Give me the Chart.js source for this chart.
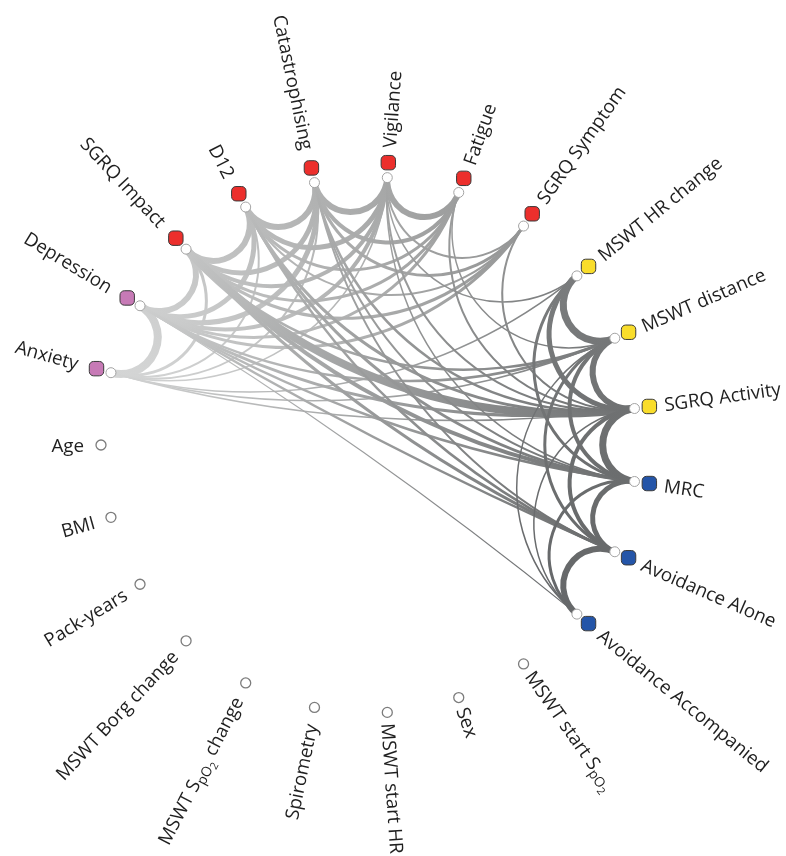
<!DOCTYPE html>
<html>
<head>
<meta charset="utf-8">
<script src="https://cdn.jsdelivr.net/npm/chart.js@4.4.1/dist/chart.umd.min.js"></script>
<style>
  html, body { margin: 0; padding: 0; background: #fff; }
  #wrap { width: 786px; height: 856px; }
</style>
</head>
<body>
<div id="wrap"><canvas id="chart"></canvas></div>
<script>
// nodes, clockwise, starting with Vigilance near the top
const nodeNames = [
  "Vigilance", "Fatigue", "SGRQ Symptom", "MSWT HR change", "MSWT distance",
  "SGRQ Activity", "MRC", "Avoidance Alone", "Avoidance Accompanied",
  "MSWT start SpO2", "Sex", "MSWT start HR", "Spirometry", "MSWT SpO2 change",
  "MSWT Borg change", "Pack-years", "BMI", "Age", "Anxiety", "Depression",
  "SGRQ Impact", "D12", "Catastrophising"
];

const nodeGroups = [
  "red", "red", "red", "yellow", "yellow",
  "yellow", "blue", "blue", "blue",
  null, null, null, null, null,
  null, null, null, null, "pink", "pink",
  "red", "red", "red"
];

// labels with sub/sub-sub scripts: [text, level]
const richLabels = {
  "MSWT SpO2 change": [["MSWT S", 0], ["pO", 1], ["2", 2], [" change", 0]],
  "MSWT start SpO2": [["MSWT start S", 0], ["pO", 1], ["2", 2]]
};

// [from, to, strength]
const edges = [
  // psychological cluster
  ["Anxiety", "Depression", 8],
  ["Anxiety", "SGRQ Impact", 3],
  ["Anxiety", "D12", 2],
  ["Anxiety", "Catastrophising", 2],
  ["Anxiety", "Vigilance", 1.5],
  ["Depression", "SGRQ Impact", 6],
  ["Depression", "D12", 5],
  ["Depression", "Catastrophising", 5],
  ["Depression", "Vigilance", 4],
  ["Depression", "Fatigue", 3],
  ["Depression", "SGRQ Symptom", 3],
  ["SGRQ Impact", "D12", 6],
  ["SGRQ Impact", "Catastrophising", 5],
  ["SGRQ Impact", "Vigilance", 4],
  ["SGRQ Impact", "Fatigue", 3],
  ["SGRQ Impact", "SGRQ Symptom", 3],
  ["D12", "Catastrophising", 6],
  ["D12", "Vigilance", 5],
  ["D12", "Fatigue", 3],
  ["D12", "SGRQ Symptom", 2],
  ["Catastrophising", "Vigilance", 6],
  ["Catastrophising", "Fatigue", 4],
  ["Catastrophising", "SGRQ Symptom", 3],
  ["Vigilance", "Fatigue", 6],
  ["Vigilance", "SGRQ Symptom", 2],
  // across
  ["Anxiety", "MSWT HR change", 1.5],
  ["Anxiety", "MSWT distance", 1.5],
  ["Anxiety", "SGRQ Activity", 1.5],
  ["Depression", "MSWT distance", 2.5],
  ["Depression", "SGRQ Activity", 3],
  ["Depression", "MRC", 2.5],
  ["Depression", "Avoidance Alone", 2.5],
  ["Depression", "Avoidance Accompanied", 1.2],
  ["SGRQ Impact", "MSWT distance", 2.5],
  ["SGRQ Impact", "SGRQ Activity", 8],
  ["SGRQ Impact", "MRC", 4],
  ["SGRQ Impact", "Avoidance Alone", 3],
  ["D12", "SGRQ Activity", 3],
  ["D12", "MRC", 3],
  ["D12", "Avoidance Alone", 2.5],
  ["Catastrophising", "SGRQ Activity", 2.5],
  ["Catastrophising", "MRC", 2],
  ["Catastrophising", "Avoidance Alone", 2],
  ["Vigilance", "MSWT HR change", 1.5],
  ["Vigilance", "SGRQ Activity", 2],
  ["Vigilance", "MRC", 1.5],
  ["Fatigue", "MSWT distance", 1.5],
  ["Fatigue", "SGRQ Activity", 2],
  ["SGRQ Symptom", "SGRQ Activity", 2],
  // functional cluster
  ["MSWT HR change", "MSWT distance", 7],
  ["MSWT HR change", "SGRQ Activity", 5],
  ["MSWT HR change", "MRC", 3],
  ["MSWT distance", "SGRQ Activity", 6],
  ["MSWT distance", "MRC", 4],
  ["MSWT distance", "Avoidance Alone", 3],
  ["MSWT distance", "Avoidance Accompanied", 1.5],
  ["SGRQ Activity", "MRC", 7],
  ["SGRQ Activity", "Avoidance Alone", 4],
  ["SGRQ Activity", "Avoidance Accompanied", 1.5],
  ["MRC", "Avoidance Alone", 5],
  ["MRC", "Avoidance Accompanied", 3],
  ["Avoidance Alone", "Avoidance Accompanied", 6]
];

// styles
const groupColors = { red: "#ec2f2c", yellow: "#f9dd2b", blue: "#2455a8", pink: "#c77ab6" };
const edgeShade = {
  "Anxiety": "#d4d5d5", "Depression": "#cecfcf", "SGRQ Impact": "#c4c5c5",
  "D12": "#bbbcbc", "Catastrophising": "#b0b1b1", "Vigilance": "#a6a7a7",
  "Fatigue": "#9d9e9e", "SGRQ Symptom": "#959696", "MSWT HR change": "#7a7c7d",
  "MSWT distance": "#757778", "SGRQ Activity": "#6f7172", "MRC": "#6b6d6e",
  "Avoidance Alone": "#686a6b", "Avoidance Accompanied": "#66686a"
};

const N = nodeNames.length;
const STEP = 360 / N;
const START = -90 + STEP / 4;
const CX = 369, CY = 445, W = 786, H = 856, R_PX = 268;
const R_MARK = 283 / R_PX;
// label start radius: [right side, left side]
const R_LAB_ON = [298 / R_PX, 302 / R_PX], R_LAB_OFF = [279 / R_PX, 285 / R_PX];

const connected = new Set();
edges.forEach(e => { connected.add(e[0]); connected.add(e[1]); });

const angleOf = i => (START + i * STEP) * Math.PI / 180;
const polar = (i, r) => ({ x: r * Math.cos(angleOf(i)), y: -r * Math.sin(angleOf(i)) });

const onIdx = nodeNames.map((n, i) => i).filter(i => connected.has(nodeNames[i]));
const offIdx = nodeNames.map((n, i) => i).filter(i => !connected.has(nodeNames[i]));

const edgePlugin = {
  id: "edges",
  beforeDatasetsDraw(chart) {
    const { ctx, scales: { x, y } } = chart;
    const c = { x: x.getPixelForValue(0), y: y.getPixelForValue(0) };
    const rpx = x.getPixelForValue(1) - c.x;
    ctx.save();
    ctx.lineCap = "butt";
    edges.forEach(([a, b, w]) => {
      const ia = nodeNames.indexOf(a), ib = nodeNames.indexOf(b);
      const pa = polar(ia, 1), pb = polar(ib, 1);
      const A = { x: x.getPixelForValue(pa.x), y: y.getPixelForValue(pa.y) };
      const B = { x: x.getPixelForValue(pb.x), y: y.getPixelForValue(pb.y) };
      let d = Math.abs(ia - ib) * STEP % 360;
      if (d > 180) d = 360 - d;
      const th = d * Math.PI / 180;
      const g = ctx.createLinearGradient(A.x, A.y, B.x, B.y);
      g.addColorStop(0, edgeShade[a]);
      g.addColorStop(1, edgeShade[b]);
      ctx.strokeStyle = g;
      ctx.lineWidth = w;
      ctx.beginPath();
      ctx.moveTo(A.x, A.y);
      if (th > Math.PI - 0.01) ctx.lineTo(B.x, B.y);
      else ctx.arcTo(c.x, c.y, B.x, B.y, rpx * Math.tan(th / 2));
      ctx.stroke();
    });
    ctx.restore();
  }
};

const SIZES = [18.8, 13.8, 10.8], DROP = [0, 4, 7];
const font = s => s + 'px "Open Sans", "Noto Sans", sans-serif';

const labelPlugin = {
  id: "labels",
  afterDatasetsDraw(chart) {
    const { ctx, scales: { x, y } } = chart;
    ctx.save();
    ctx.fillStyle = "#1f1f1f";
    ctx.textBaseline = "alphabetic";
    nodeNames.forEach((name, i) => {
      let deg = START + i * STEP;
      deg = ((deg % 360) + 360) % 360;
      const flip = deg > 90 && deg < 270;
      const r = (connected.has(name) ? R_LAB_ON : R_LAB_OFF)[flip ? 1 : 0];
      const p = polar(i, r);
      const px = x.getPixelForValue(p.x), py = y.getPixelForValue(p.y);
      const pieces = richLabels[name] || [[name, 0]];
      let total = 0;
      pieces.forEach(([t, l]) => { ctx.font = font(SIZES[l]); total += ctx.measureText(t).width; });
      ctx.save();
      ctx.translate(px, py);
      ctx.rotate((flip ? deg + 180 : deg) * Math.PI / 180);
      let tx = flip ? -total : 0;
      const base = SIZES[0] * 0.36;
      pieces.forEach(([t, l]) => {
        ctx.font = font(SIZES[l]);
        ctx.fillText(t, tx, base + DROP[l]);
        tx += ctx.measureText(t).width;
      });
      ctx.restore();
    });
    ctx.restore();
  }
};

new Chart(document.getElementById("chart"), {
  type: "scatter",
  data: {
    datasets: [
      {
        label: "ends",
        data: onIdx.map(i => polar(i, 1)),
        pointStyle: "circle",
        pointRadius: 5,
        backgroundColor: "#ffffff",
        borderColor: "#a3a3a3",
        borderWidth: 1
      },
      {
        label: "unlinked",
        data: offIdx.map(i => polar(i, 1)),
        pointStyle: "circle",
        pointRadius: 5,
        backgroundColor: "#ffffff",
        borderColor: "#7c7c7c",
        borderWidth: 1.3
      },
      {
        label: "markers",
        data: onIdx.map(i => polar(i, R_MARK)),
        pointStyle: "rectRounded",
        pointRadius: 8.4,
        backgroundColor: onIdx.map(i => groupColors[nodeGroups[i]]),
        borderColor: "#3a3a3a",
        borderWidth: 1
      }
    ]
  },
  options: {
    responsive: true,
    maintainAspectRatio: false,
    animation: false,
    events: [],
    layout: { padding: 0, autoPadding: false },
    plugins: { legend: { display: false }, tooltip: { enabled: false } },
    scales: {
      x: { type: "linear", display: false, min: -CX / R_PX, max: (W - CX) / R_PX },
      y: { type: "linear", display: false, min: -(H - CY) / R_PX, max: CY / R_PX }
    }
  },
  plugins: [edgePlugin, labelPlugin]
});
</script>
</body>
</html>
